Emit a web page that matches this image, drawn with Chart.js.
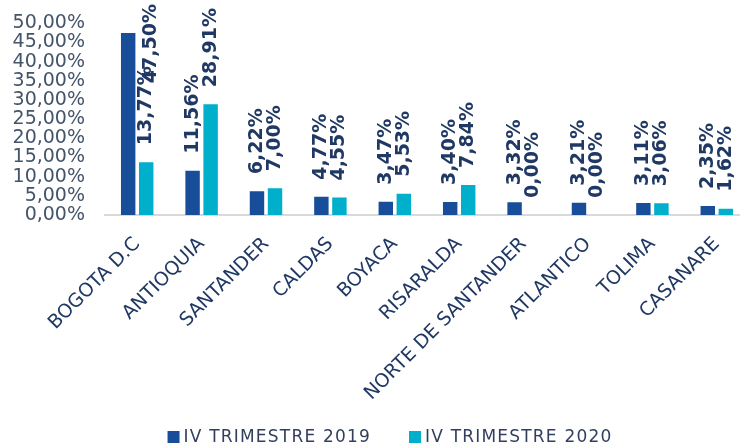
<!DOCTYPE html>
<html>
<head>
<meta charset="utf-8">
<script src="https://cdn.jsdelivr.net/npm/chart.js@4.4.0/dist/chart.umd.min.js"></script>
<style>
  html, body { margin: 0; padding: 0; background: #fff; overflow: hidden; }
  .wrap { width: 740px; height: 446px; overflow: hidden; }
</style>
</head>
<body>
<div class="wrap">
  <canvas id="bar-chart" width="780" height="446"></canvas>
</div>
<script>
const departamentos = [
  "BOGOTA D.C", "ANTIOQUIA", "SANTANDER", "CALDAS", "BOYACA",
  "RISARALDA", "NORTE DE SANTANDER", "ATLANTICO", "TOLIMA", "CASANARE",
];
const trimestre2019 = [47.5, 11.56, 6.22, 4.77, 3.47, 3.4, 3.32, 3.21, 3.11, 2.35];
const trimestre2020 = [13.77, 28.91, 7.0, 4.55, 5.53, 7.84, 0.0, 0.0, 3.06, 1.62];
const seriesNames = ["IV TRIMESTRE 2019", "IV TRIMESTRE 2020"];
const colors = ["#184E99", "#00AFCB"];

const pct = (v) => v.toFixed(2).replace(".", ",") + "%";

// vertical value labels above each bar
const barLabels = {
  id: "barLabels",
  afterDatasetsDraw(chart) {
    const ctx = chart.ctx;
    ctx.save();
    ctx.font = "bold 19px 'DejaVu Sans'";
    ctx.fillStyle = "#1F3864";
    ctx.textAlign = "left";
    ctx.textBaseline = "middle";
    chart.data.datasets.forEach((ds, i) => {
      chart.getDatasetMeta(i).data.forEach((bar, j) => {
        const text = pct(ds.data[j]);
        const w = ctx.measureText(text).width;
        let x = bar.x;
        let y = bar.y - 17;
        if (y - w < 4) {
          // no room above the plot: pushed aside like excel does
          y = 4 + w;
          x = bar.x + bar.width * 1.6;
        }
        ctx.save();
        ctx.translate(x, y);
        ctx.rotate(-Math.PI / 2);
        ctx.fillText(text, 0, 0);
        ctx.restore();
      });
    });
    ctx.restore();
  },
};

// legend drawn by hand, the built in one spaces items too far apart
const bottomLegend = {
  id: "bottomLegend",
  afterDraw(chart) {
    const ctx = chart.ctx;
    ctx.save();
    ctx.font = "17px 'DejaVu Sans'";
    ctx.letterSpacing = "1.2px";
    ctx.textBaseline = "middle";
    const box = 12, gapText = 4, gapItem = 38;
    const widths = chart.data.datasets.map((ds) => ctx.measureText(ds.label).width);
    const total = widths.reduce((a, w) => a + box + gapText + w, 0) + gapItem;
    let x = chart.width / 2 - total / 2;
    const y = chart.height - 8;
    chart.data.datasets.forEach((ds, i) => {
      ctx.fillStyle = ds.backgroundColor;
      ctx.fillRect(x, y - box / 2 - 1, box, box);
      x += box + gapText;
      ctx.fillStyle = "#333F5F";
      ctx.fillText(ds.label, x, y);
      x += widths[i] + gapItem;
    });
    ctx.restore();
  },
};

new Chart("bar-chart", {
  type: "bar",
  data: {
    labels: departamentos,
    datasets: [
      {
        label: seriesNames[0],
        data: trimestre2019,
        backgroundColor: colors[0],
        categoryPercentage: 0.56,
        barPercentage: 0.8,
      },
      {
        label: seriesNames[1],
        data: trimestre2020,
        backgroundColor: colors[1],
        categoryPercentage: 0.56,
        barPercentage: 0.8,
      },
    ],
  },
  plugins: [barLabels, bottomLegend],
  options: {
    responsive: false,
    animation: false,
    layout: { padding: { left: 0, right: 31, top: 0, bottom: 0 } },
    plugins: {
      legend: { display: false },
      tooltip: { enabled: false },
    },
    scales: {
      x: {
        grid: { display: false, drawTicks: false },
        border: { display: true, color: "#D9D9D9", width: 2 },
        ticks: {
          autoSkip: false,
          maxRotation: 45,
          minRotation: 45,
          padding: 18,
          color: "#203864",
          font: { family: "'DejaVu Sans'", size: 19 },
        },
        afterFit: (scale) => {
          scale.height = 231;
        },
      },
      y: {
        min: 0,
        max: 50,
        grid: { display: false, drawTicks: false },
        border: { display: false },
        ticks: {
          stepSize: 5,
          autoSkip: false,
          padding: 20,
          color: "#44546A",
          font: { family: "'DejaVu Sans'", size: 19 },
          callback: (v) => pct(v),
        },
        afterFit: (scale) => {
          scale.width = 105;
          scale.paddingTop = 23.4; // top of plot where 50% sits
        },
      },
    },
  },
});
</script>
</body>
</html>
